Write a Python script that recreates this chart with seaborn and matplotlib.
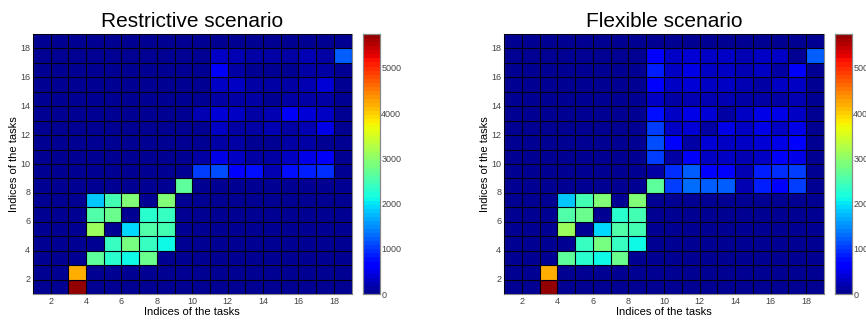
import numpy as np
import pandas as pd
import matplotlib
matplotlib.use('Agg')
import matplotlib.pyplot as plt
import seaborn as sns
from matplotlib.colors import ListedColormap

sns.set_theme(style='white')
plt.rcParams['font.family'] = ['Liberation Sans', 'DejaVu Sans']

# ---------------------------------
# data: rows are y = 1..18 (bottom to top), columns x = 1..18
task_ids = list(range(1, 19))
tick_pos_labels = ['2', '4', '6', '8', '10', '12', '14', '16', '18']
cbar_ticks = [0, 1000, 2000, 3000, 4000, 5000]
vmax = 5750

restrictive = [
    [0, 0, 5730, 0, 0, 0, 0, 0, 0, 0, 0, 0, 0, 0, 0, 0, 0, 0],
    [0, 0, 4200, 0, 0, 0, 0, 0, 0, 0, 0, 0, 0, 0, 0, 0, 0, 0],
    [0, 0, 0, 2650, 2300, 2150, 2750, 0, 0, 0, 0, 0, 0, 0, 0, 0, 0, 0],
    [0, 0, 0, 0, 2400, 2850, 2350, 2150, 0, 0, 0, 0, 0, 0, 0, 0, 0, 0],
    [0, 0, 0, 3100, 0, 1950, 2600, 2450, 0, 0, 0, 0, 0, 0, 0, 0, 0, 0],
    [0, 0, 0, 2600, 2750, 0, 2300, 2400, 0, 0, 0, 0, 0, 0, 0, 0, 0, 0],
    [0, 0, 0, 1800, 2450, 2900, 0, 2900, 0, 0, 0, 0, 0, 0, 0, 0, 0, 0],
    [0, 0, 0, 0, 0, 0, 0, 0, 2650, 0, 0, 0, 0, 0, 0, 0, 0, 0],
    [0, 0, 0, 0, 0, 0, 0, 0, 0, 1000, 1150, 700, 750, 250, 800, 850, 950, 0],
    [0, 0, 0, 0, 0, 0, 0, 0, 0, 100, 500, 350, 100, 100, 300, 500, 550, 0],
    [0, 0, 0, 0, 0, 0, 0, 0, 0, 0, 150, 100, 80, 0, 100, 150, 0, 0],
    [0, 0, 0, 0, 0, 0, 0, 0, 0, 0, 350, 150, 100, 250, 150, 250, 450, 0],
    [0, 0, 0, 0, 0, 0, 0, 0, 0, 250, 400, 350, 150, 250, 550, 400, 300, 0],
    [0, 0, 0, 0, 0, 0, 0, 0, 0, 80, 150, 150, 100, 80, 100, 100, 150, 0],
    [0, 0, 0, 0, 0, 0, 0, 0, 0, 0, 350, 300, 100, 100, 100, 250, 400, 0],
    [0, 0, 0, 0, 0, 0, 0, 0, 0, 0, 550, 100, 0, 0, 0, 100, 100, 0],
    [0, 0, 0, 0, 0, 0, 0, 0, 0, 0, 350, 200, 100, 100, 100, 250, 100, 1200],
    [0, 0, 0, 0, 0, 0, 0, 0, 0, 0, 0, 0, 0, 0, 0, 0, 0, 0],
]

flexible = [
    [0, 0, 5730, 0, 0, 0, 0, 0, 0, 0, 0, 0, 0, 0, 0, 0, 0, 0],
    [0, 0, 4200, 0, 0, 0, 0, 0, 0, 0, 0, 0, 0, 0, 0, 0, 0, 0],
    [0, 0, 0, 2650, 2300, 2150, 2700, 0, 0, 0, 0, 0, 0, 0, 0, 0, 0, 0],
    [0, 0, 0, 0, 2400, 2850, 2350, 2150, 0, 0, 0, 0, 0, 0, 0, 0, 0, 0],
    [0, 0, 0, 3100, 0, 1950, 2600, 2450, 0, 0, 0, 0, 0, 0, 0, 0, 0, 0],
    [0, 0, 0, 2600, 2750, 0, 2300, 2450, 0, 0, 0, 0, 0, 0, 0, 0, 0, 0],
    [0, 0, 0, 1800, 2450, 2900, 0, 2900, 0, 0, 0, 0, 0, 0, 0, 0, 0, 0],
    [0, 0, 0, 0, 0, 0, 0, 0, 2650, 1000, 1300, 1250, 1200, 250, 850, 700, 1050, 0],
    [0, 0, 0, 0, 0, 0, 0, 0, 100, 950, 1200, 700, 700, 200, 850, 900, 1000, 0],
    [0, 0, 0, 0, 0, 0, 0, 0, 1000, 100, 550, 300, 300, 200, 350, 550, 500, 0],
    [0, 0, 0, 0, 0, 0, 0, 0, 1100, 650, 100, 400, 350, 300, 400, 500, 650, 0],
    [0, 0, 0, 0, 0, 0, 0, 0, 1050, 350, 400, 100, 500, 300, 450, 350, 450, 0],
    [0, 0, 0, 0, 0, 0, 0, 0, 750, 300, 450, 400, 100, 300, 500, 450, 350, 0],
    [0, 0, 0, 0, 0, 0, 0, 0, 300, 100, 200, 200, 200, 150, 150, 150, 200, 0],
    [0, 0, 0, 0, 0, 0, 0, 0, 700, 350, 400, 350, 350, 200, 150, 300, 350, 0],
    [0, 0, 0, 0, 0, 0, 0, 0, 850, 350, 450, 300, 350, 250, 300, 100, 550, 0],
    [0, 0, 0, 0, 0, 0, 0, 0, 700, 300, 400, 300, 300, 200, 300, 350, 50, 1200],
    [0, 0, 0, 0, 0, 0, 0, 0, 0, 0, 0, 0, 0, 0, 0, 0, 0, 0],
]

# matlab-like jet(64)
jet64 = ListedColormap(plt.cm.jet(np.linspace(0.016, 0.984, 64)))


# draw one scenario panel with its colorbar
def draw_panel(ax, cax, values, title):
    data = pd.DataFrame(values, index=task_ids, columns=task_ids)
    sns.heatmap(data, ax=ax, cbar_ax=cax, cmap=jet64, vmin=0, vmax=vmax,
                linewidths=0, cbar_kws={'ticks': cbar_ticks})
    ax.invert_yaxis()
    # tick at the cell edges, like pcolor
    ax.set_xticks(np.arange(1, 18, 2))
    ax.set_xticklabels(tick_pos_labels, rotation=0)
    ax.set_yticks(np.arange(1, 18, 2))
    ax.set_yticklabels(tick_pos_labels, rotation=0)
    # cell borders as a minor grid
    ax.xaxis.remove_overlapping_locs = False
    ax.yaxis.remove_overlapping_locs = False
    ax.set_xticks(np.arange(0, 19), minor=True)
    ax.set_yticks(np.arange(0, 19), minor=True)
    ax.grid(which='minor', color='#000010', linewidth=0.8, snap=True)
    ax.grid(which='major', visible=False)
    ax.set_axisbelow(False)
    ax.tick_params(which='minor', length=0)
    ax.tick_params(axis='both', which='major', direction='in', length=3, width=0.5,
                   colors='#444444', labelsize=6.5, pad=2)
    for sp in ax.spines.values():
        sp.set_visible(True)
        sp.set_color('#888888')
        sp.set_linewidth(0.8)
    ax.set_xlabel('Indices of the tasks', fontsize=8, color='black', labelpad=1)
    ax.set_ylabel('Indices of the tasks', fontsize=8, color='black', labelpad=1)
    ax.set_title(title, fontsize=15, color='black', pad=5)

    cax.tick_params(direction='in', length=2.5, width=0.5, colors='#444444', labelsize=6.5,
                    pad=1, left=True, right=True)
    for sp in cax.spines.values():
        sp.set_visible(True)
        sp.set_color('#888888')
        sp.set_linewidth(0.8)


fig = plt.figure(figsize=(8.66, 3.21), dpi=100)
ax1 = fig.add_axes([0.038, 0.084, 0.368, 0.81])
cax1 = fig.add_axes([0.419, 0.084, 0.0196, 0.81])
ax2 = fig.add_axes([0.582, 0.084, 0.3695, 0.81])
cax2 = fig.add_axes([0.964, 0.084, 0.0196, 0.81])

draw_panel(ax1, cax1, restrictive, 'Restrictive scenario')
draw_panel(ax2, cax2, flexible, 'Flexible scenario')

fig.savefig('out.png', dpi=100)
